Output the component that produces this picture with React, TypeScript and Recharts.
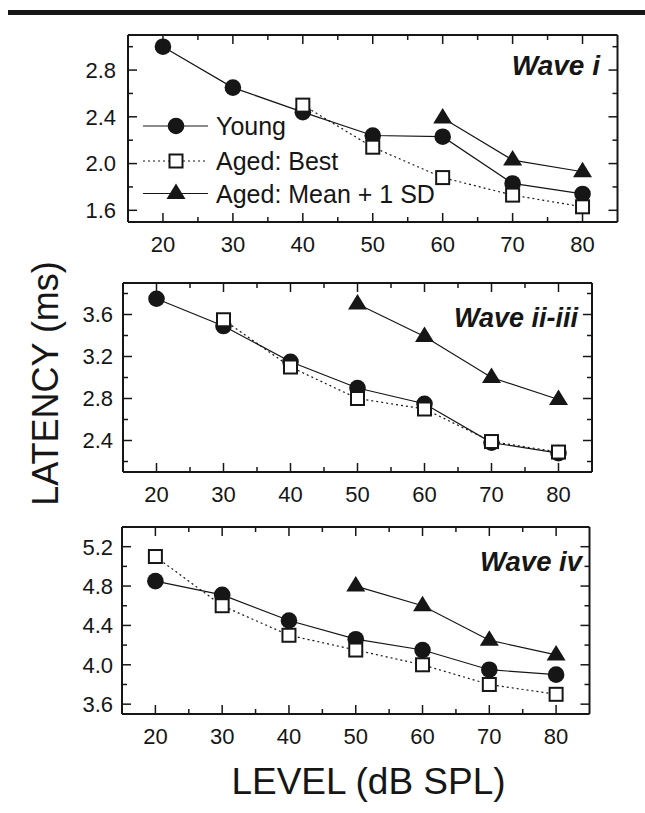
import React from 'react';
import { LineChart, Line, XAxis, YAxis, Legend } from 'recharts';

const INK = '#161616';
const FONT = '"Liberation Sans", Arial, Helvetica, sans-serif';

// ---------- data ----------
const levels = [20, 30, 40, 50, 60, 70, 80];
const xTicks = [20, 25, 30, 35, 40, 45, 50, 55, 60, 65, 70, 75, 80];
const xTickLabels = [20, 30, 40, 50, 60, 70, 80];
const seriesNames = ['Young', 'Aged: Best', 'Aged: Mean + 1 SD'];

// Wave i
const waveIYoung = [3.0, 2.65, 2.44, 2.24, 2.23, 1.83, 1.74];
const waveIBestLevels = [40, 50, 60, 70, 80];
const waveIBest = [2.5, 2.14, 1.88, 1.73, 1.63];
const waveIMeanLevels = [60, 70, 80];
const waveIMean = [2.39, 2.03, 1.93];
const waveIYTicks = [1.6, 1.8, 2.0, 2.2, 2.4, 2.6, 2.8, 3.0];
const waveIYLabels = [1.6, 2.0, 2.4, 2.8];

// Wave ii-iii
const waveIIYoung = [3.75, 3.49, 3.15, 2.9, 2.75, 2.38, 2.28];
const waveIIBestLevels = [30, 40, 50, 60, 70, 80];
const waveIIBest = [3.55, 3.1, 2.8, 2.7, 2.39, 2.29];
const waveIIMeanLevels = [50, 60, 70, 80];
const waveIIMean = [3.7, 3.39, 3.0, 2.79];
const waveIIYTicks = [2.2, 2.4, 2.6, 2.8, 3.0, 3.2, 3.4, 3.6, 3.8];
const waveIIYLabels = [2.4, 2.8, 3.2, 3.6];

// Wave iv
const waveIVYoung = [4.85, 4.71, 4.45, 4.26, 4.15, 3.95, 3.9];
const waveIVBestLevels = [20, 30, 40, 50, 60, 70, 80];
const waveIVBest = [5.1, 4.6, 4.3, 4.15, 4.0, 3.8, 3.7];
const waveIVMeanLevels = [50, 60, 70, 80];
const waveIVMean = [4.8, 4.6, 4.25, 4.1];
const waveIVYTicks = [3.6, 3.8, 4.0, 4.2, 4.4, 4.6, 4.8, 5.0, 5.2];
const waveIVYLabels = [3.6, 4.0, 4.4, 4.8, 5.2];

const toPts = (xs: number[], ys: number[]) => xs.map((x, i) => ({ level: x, value: ys[i] }));

const near = (v: number, arr: number[]) => arr.some((a) => Math.abs(a - v) < 1e-6);

// ---------- marker shapes ----------
const Circle = ({ cx, cy }: { cx: number; cy: number }) => <circle cx={cx} cy={cy} r={8.3} fill={INK} />;
const Square = ({ cx, cy }: { cx: number; cy: number }) => (
  <rect x={cx - 6.5} y={cy - 6.5} width={13} height={13} fill="#fff" stroke={INK} strokeWidth={2} />
);
const Triangle = ({ cx, cy }: { cx: number; cy: number }) => (
  <polygon points={`${cx},${cy - 10} ${cx - 9.5},${cy + 5.5} ${cx + 9.5},${cy + 5.5}`} fill={INK} />
);

const dotFn = (Shape: any) => (p: any) => {
  if (p.cx == null || p.cy == null) return <g key={`n-${p.index}`} />;
  return <Shape key={`d-${p.index}`} cx={p.cx} cy={p.cy} />;
};

const styles: Record<string, { shape: any; dash?: string }> = {
  'Young': { shape: Circle },
  'Aged: Best': { shape: Square, dash: '2 3' },
  'Aged: Mean + 1 SD': { shape: Triangle },
};

// ---------- ticks ----------
const makeBottomTick = (labels: number[]) => (p: any) => {
  const { x, y, payload } = p;
  const major = near(payload.value, labels);
  return (
    <g>
      <line x1={x} x2={x} y1={y} y2={y - (major ? 9 : 5)} stroke={INK} strokeWidth={1.5} />
      {major && (
        <text x={x} y={y + 29.5} textAnchor="middle" fontSize={22} fill={INK} fontFamily={FONT}>
          {payload.value}
        </text>
      )}
    </g>
  );
};
const makeTopTick = (labels: number[]) => (p: any) => {
  const { x, y, payload } = p;
  const major = near(payload.value, labels);
  return <line x1={x} x2={x} y1={y} y2={y + (major ? 9 : 5)} stroke={INK} strokeWidth={1.5} />;
};
const makeLeftTick = (labels: number[], gap: number) => (p: any) => {
  const { x, y, payload } = p;
  const major = near(payload.value, labels);
  return (
    <g>
      <line x1={x} x2={x + (major ? 9 : 5)} y1={y} y2={y} stroke={INK} strokeWidth={1.5} />
      {major && (
        <text x={x - gap} y={y + 7.9} textAnchor="end" fontSize={22} fill={INK} fontFamily={FONT}>
          {Number(payload.value).toFixed(1)}
        </text>
      )}
    </g>
  );
};
const makeRightTick = (labels: number[]) => (p: any) => {
  const { x, y, payload } = p;
  const major = near(payload.value, labels);
  return <line x1={x} x2={x - (major ? 9 : 5)} y1={y} y2={y} stroke={INK} strokeWidth={1.5} />;
};

// ---------- legend ----------
const legendRows = [17, 52, 84.5];
const renderLegend = (props: any) => {
  const payload = [...(props.payload || [])].sort(
    (a: any, b: any) => seriesNames.indexOf(a.value) - seriesNames.indexOf(b.value)
  );
  return (
    <svg width={330} height={100} style={{ display: 'block', overflow: 'visible' }}>
      {payload.map((e: any, i: number) => {
        const st = styles[e.value] || styles['Young'];
        const cy = legendRows[i];
        const Shape = st.shape;
        return (
          <g key={e.value}>
            <line x1={3} x2={68} y1={cy} y2={cy} stroke={INK} strokeWidth={1.2} strokeDasharray={st.dash} />
            <Shape cx={36} cy={cy} />
            <text x={76} y={cy + 9} fontSize={25} fill={INK} fontFamily={FONT}>
              {e.value}
            </text>
          </g>
        );
      })}
    </svg>
  );
};

// ---------- panel ----------
type PanelProps = {
  top: number;
  height: number;
  plotLeft: number;
  plotRight: number;
  plotTop: number;
  plotBottom: number;
  yDomain: [number, number];
  yTicks: number[];
  yLabels: number[];
  labelGap: number;
  young: { level: number; value: number }[];
  best: { level: number; value: number }[];
  mean: { level: number; value: number }[];
  legend?: boolean;
};

function Panel(pp: PanelProps) {
  const W = 645;
  const margin = {
    top: pp.plotTop - pp.top - 1,
    bottom: pp.height - (pp.plotBottom - pp.top) - 30,
    left: pp.plotLeft - 60,
    right: W - pp.plotRight - 1,
  };
  const axisLine = { stroke: INK, strokeWidth: 2 };
  return (
    <div style={{ position: 'absolute', left: 0, top: pp.top, width: W, height: pp.height }}>
      <LineChart width={W} height={pp.height} margin={margin}>
        <XAxis
          xAxisId="b"
          dataKey="level"
          type="number"
          domain={[15, 85]}
          allowDataOverflow
          ticks={xTicks}
          interval={0}
          height={30}
          tickSize={0}
          tickMargin={0}
          tickLine={false}
          axisLine={axisLine}
          tick={makeBottomTick(xTickLabels)}
        />
        <XAxis
          xAxisId="t"
          orientation="top"
          dataKey="level"
          type="number"
          domain={[15, 85]}
          allowDataOverflow
          ticks={xTicks}
          interval={0}
          height={1}
          tickSize={0}
          tickMargin={0}
          tickLine={false}
          axisLine={axisLine}
          tick={makeTopTick(xTickLabels)}
        />
        <YAxis
          yAxisId="l"
          type="number"
          domain={pp.yDomain}
          allowDataOverflow
          ticks={pp.yTicks}
          interval={0}
          width={60}
          tickSize={0}
          tickMargin={0}
          tickLine={false}
          axisLine={axisLine}
          tick={makeLeftTick(pp.yLabels, pp.labelGap)}
        />
        <YAxis
          yAxisId="r"
          orientation="right"
          type="number"
          domain={pp.yDomain}
          allowDataOverflow
          ticks={pp.yTicks}
          interval={0}
          width={1}
          tickSize={0}
          tickMargin={0}
          tickLine={false}
          axisLine={axisLine}
          tick={makeRightTick(pp.yLabels)}
        />
        <Line
          xAxisId="b"
          yAxisId="l"
          data={pp.young}
          dataKey="value"
          name="Young"
          stroke={INK}
          strokeWidth={1.2}
          dot={dotFn(Circle)}
          activeDot={false}
          isAnimationActive={false}
        />
        <Line
          xAxisId="b"
          yAxisId="l"
          data={pp.best}
          dataKey="value"
          name="Aged: Best"
          stroke={INK}
          strokeWidth={1.2}
          strokeDasharray="2 3"
          dot={dotFn(Square)}
          activeDot={false}
          isAnimationActive={false}
        />
        <Line
          xAxisId="b"
          yAxisId="l"
          data={pp.mean}
          dataKey="value"
          name="Aged: Mean + 1 SD"
          stroke={INK}
          strokeWidth={1.2}
          dot={dotFn(Triangle)}
          activeDot={false}
          isAnimationActive={false}
        />
        {pp.legend && (
          <Legend
            layout="vertical"
            align="center"
            verticalAlign="middle"
            content={renderLegend}
            wrapperStyle={{ position: 'absolute', left: 140, top: 89, width: 330, height: 100 }}
          />
        )}
      </LineChart>
    </div>
  );
}

export default function App() {
  return (
    <div
      style={{
        position: 'absolute',
        left: 0,
        top: 0,
        width: 645,
        height: 813,
        background: '#fff',
        overflow: 'hidden',
        fontFamily: FONT,
      }}
    >
      <div style={{ position: 'absolute', left: 8, top: 10, width: 637, height: 4.5, background: INK }} />
      <Panel
        top={20}
        height={250}
        plotLeft={128}
        plotRight={617.5}
        plotTop={35}
        plotBottom={222}
        yDomain={[1.5, 3.1]}
        yTicks={waveIYTicks}
        yLabels={waveIYLabels}
        labelGap={12}
        young={toPts(levels, waveIYoung)}
        best={toPts(waveIBestLevels, waveIBest)}
        mean={toPts(waveIMeanLevels, waveIMean)}
        legend
      />
      <Panel
        top={270}
        height={250}
        plotLeft={123}
        plotRight={592}
        plotTop={283}
        plotBottom={472}
        yDomain={[2.1, 3.9]}
        yTicks={waveIIYTicks}
        yLabels={waveIIYLabels}
        labelGap={10}
        young={toPts(levels, waveIIYoung)}
        best={toPts(waveIIBestLevels, waveIIBest)}
        mean={toPts(waveIIMeanLevels, waveIIMean)}
      />
      <Panel
        top={515}
        height={250}
        plotLeft={122}
        plotRight={589.5}
        plotTop={527}
        plotBottom={714}
        yDomain={[3.5, 5.4]}
        yTicks={waveIVYTicks}
        yLabels={waveIVYLabels}
        labelGap={9}
        young={toPts(levels, waveIVYoung)}
        best={toPts(waveIVBestLevels, waveIVBest)}
        mean={toPts(waveIVMeanLevels, waveIVMean)}
      />
      <svg
        width={645}
        height={813}
        style={{ position: 'absolute', left: 0, top: 0, pointerEvents: 'none' }}
      >
        <g fontFamily={FONT} fill={INK} fontWeight="bold" fontStyle="italic" textAnchor="end">
          <text x={600} y={75} fontSize={28}>Wave i</text>
          <text x={578} y={327} fontSize={27}>Wave ii-iii</text>
          <text x={582} y={571} fontSize={27.5}>Wave iv</text>
        </g>
        <text
          transform="translate(58,383.5) rotate(-90)"
          textAnchor="middle"
          fontSize={36}
          fill={INK}
          fontFamily={FONT}
        >
          LATENCY (ms)
        </text>
        <text x={368.5} y={794} textAnchor="middle" fontSize={37} fill={INK} fontFamily={FONT}>
          LEVEL (dB SPL)
        </text>
      </svg>
    </div>
  );
}
